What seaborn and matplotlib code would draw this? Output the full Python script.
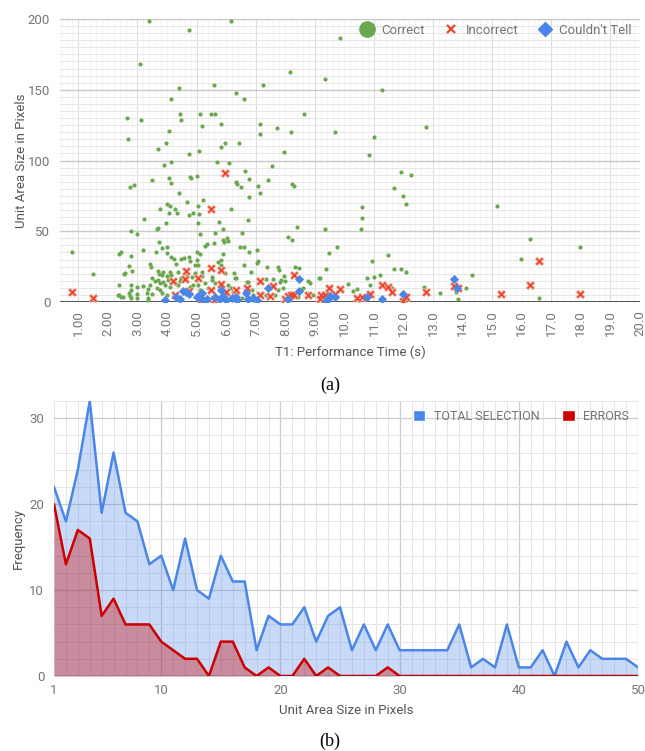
import numpy as np
import pandas as pd
import matplotlib.pyplot as plt
import seaborn as sns
from matplotlib.lines import Line2D
from matplotlib.patches import Patch

# ---- (a) T1 performance time vs unit area size ----
correct_t = [
    0.80, 1.49, 2.75, 2.90, 3.48, 4.06, 4.15, 4.77, 5.00, 4.42,
    4.67, 4.01, 4.09, 3.75, 4.06, 4.27, 4.33, 4.73, 4.89, 5.05,
    3.22, 3.96, 3.69, 3.66, 5.05, 2.78, 3.00, 3.74, 3.20, 3.63,
    3.82, 3.99, 4.01, 2.43, 2.39, 2.77, 3.42, 3.46, 2.70, 4.15,
    4.22, 4.32, 4.47, 4.57, 4.75, 4.77, 4.94, 5.00, 2.83, 2.54,
    2.59, 3.68, 3.74, 3.82, 3.87, 3.99, 4.10, 4.15, 4.38, 3.50,
    3.60, 3.69, 3.76, 3.87, 3.93, 4.04, 3.42, 3.37, 3.20, 2.97,
    2.78, 2.77, 2.39, 2.38, 2.44, 2.75, 2.78, 2.97, 3.00, 3.31,
    3.34, 3.48, 3.65, 3.76, 3.82, 3.99, 4.10, 4.27, 4.38, 4.44,
    4.49, 4.66, 4.83, 4.94, 5.05, 4.89, 4.77, 3.36, 2.50, 2.73,
    7.14, 6.78, 5.22, 5.09, 6.15, 5.77, 6.74, 5.11, 5.64, 5.88,
    5.89, 6.02, 6.05, 5.93, 5.60, 5.34, 5.29, 6.52, 6.46, 6.60,
    6.77, 7.03, 8.10, 8.23, 8.41, 9.34, 9.48, 5.03, 5.10, 5.91,
    5.73, 5.82, 5.84, 5.79, 7.08, 7.05, 6.60, 7.39, 7.76, 7.79,
    8.32, 8.48, 5.06, 5.17, 5.19, 5.51, 5.53, 5.64, 5.96, 6.27,
    6.29, 6.35, 6.84, 6.69, 6.74, 7.35, 7.60, 7.87, 7.96, 7.98,
    7.83, 9.14, 8.77, 8.83, 7.93, 7.76, 8.60, 8.72, 5.28, 5.37,
    5.11, 5.00, 5.45, 6.07, 6.16, 6.24, 6.86, 6.91, 7.20, 7.34,
    7.65, 8.15, 8.21, 8.43, 8.94, 9.39, 5.62, 5.90, 6.52, 2.35,
    3.39, 6.16, 4.74, 3.08, 8.17, 9.33, 5.60, 7.25, 4.40, 6.33,
    4.13, 6.61, 2.63, 3.13, 4.44, 4.49, 5.10, 5.48, 5.63, 8.64,
    5.19, 5.81, 7.15, 7.15, 7.71, 8.20, 2.69, 4.06, 3.97, 5.97,
    6.42, 5.83, 3.68, 5.08, 4.76, 7.97, 3.91, 4.15, 5.69, 6.11,
    7.56, 6.65, 4.82, 6.33, 6.38, 6.49, 6.79, 7.09, 7.43, 8.23,
    8.29, 9.86, 11.27, 9.67, 11.00, 12.75, 10.82, 11.91, 12.25, 11.67,
    11.98, 12.07, 10.58, 10.61, 10.56, 9.75, 9.37, 9.17, 15.17, 16.28,
    15.99, 17.97, 10.93, 11.49, 11.67, 11.90, 12.07, 10.78, 11.00, 11.22,
    10.11, 10.29, 10.44, 10.86, 11.62, 12.71, 13.24, 13.76, 14.12, 14.31,
    13.84, 16.57, 10.46, 9.50,
]
correct_size = [
    35, 20, 81, 82.8, 85.9, 87.8, 83.8, 88.5, 89, 76.7,
    70.9, 69, 67.8, 65.9, 63.1, 65.9, 62.9, 61.2, 63.1, 68,
    58.8, 56, 52.5, 51.3, 56, 49.9, 48, 42.1, 36.7, 35.1,
    38.4, 38.6, 34.4, 35.1, 33.7, 32.5, 26.6, 24.5, 25.7, 31.6,
    30.4, 26.6, 30.2, 30.8, 31.6, 29, 26.1, 29.7, 22.1, 19.8,
    20.2, 22.1, 19.8, 19.1, 21.4, 18.4, 21.4, 19.1, 21.4, 16.7,
    15.1, 15.6, 13.2, 14.4, 12, 15.6, 12, 9, 11.3, 10.8,
    12, 8.5, 12, 4.9, 3.8, 4.3, 2.6, 5.4, 3.1, 6.6,
    2.6, 5.7, 9.7, 8.5, 6.1, 5.0, 10.8, 13.2, 12, 14.8,
    16.7, 19.1, 17.9, 20.2, 12, 12, 10.8, 1.4, 3.3, 6.6,
    76.7, 73.9, 72, 61.9, 65.9, 56.7, 57.9, 48, 49, 51.6,
    43.8, 45.4, 43.3, 42.1, 41.9, 41, 39.8, 49, 38.6, 38.6,
    35.6, 36.7, 46.1, 43.8, 52.7, 51.8, 34.8, 35.3, 33.9, 33.9,
    28.3, 29.7, 26.1, 22.6, 29, 27.8, 26.1, 25, 25, 22.6,
    24.5, 23.8, 26.1, 21.4, 18.4, 17.9, 15.6, 13.2, 20.7, 20.2,
    17.2, 16.7, 21.4, 13.9, 14.4, 16.3, 16, 15.6, 18.4, 15.1,
    13.9, 16.7, 15.1, 13.2, 9.7, 8.5, 9.7, 6.1, 13.2, 9.7,
    8.5, 15.6, 8.5, 12, 9.7, 7.3, 8.5, 5, 6.1, 5,
    5, 6.1, 2.6, 3.8, 5, 6.1, 3.8, 4.3, 2.6, 4.9,
    198.6, 198.6, 192.5, 168.5, 162.6, 157.7, 153.7, 153.7, 151.5, 147.6,
    143.6, 143.6, 129.7, 128.7, 132.7, 128.7, 132.7, 132.7, 132.7, 132.7,
    124.7, 125.7, 125.7, 118.6, 122.8, 119.8, 114.9, 120.7, 112.7, 112.7,
    112.7, 109.7, 107.8, 106.6, 104.7, 105.7, 96.7, 98.8, 98.8, 97.9,
    95.8, 92.7, 87.8, 85, 83.1, 81, 86.8, 81.9, 85.9, 83.1,
    81.9, 186.8, 149.7, 119.8, 116.7, 123.8, 103.8, 91.8, 89.9, 80.9,
    74.8, 69.6, 66.8, 59.7, 51.7, 39, 23, 17.2, 67.7, 44.7,
    30.1, 38.8, 28.9, 32.9, 23, 23, 20.9, 16.9, 17.9, 19.1,
    12.9, 8, 8.9, 12, 9.6, 10.8, 6.1, 7.3, 9.6, 18.8,
    2.1, 3, 1.4, 9.6,
]

incorrect_t = [
    0.80, 1.49, 4.19, 4.27, 4.62, 4.64, 4.74, 5.04, 5.11, 5.14,
    5.50, 5.50, 5.50, 5.60, 5.82, 5.82, 5.97, 5.99, 6.35, 6.69,
    7.16, 7.16, 7.48, 7.57, 7.99, 8.10, 8.20, 8.29, 8.30, 8.77,
    9.16, 9.20, 9.33, 9.48, 9.67, 9.86, 10.44, 10.58, 10.86, 11.26,
    11.49, 11.60, 11.98, 12.09, 12.75, 13.70, 13.83, 15.31, 16.27, 16.57,
    17.97,
]
incorrect_size = [
    7, 3, 15, 5, 16, 22, 8, 17, 4, 1.5,
    24, 8.5, 66, 1.5, 22.5, 12.5, 91, 7.3, 8.5, 10,
    15, 5, 4.5, 11, 2, 4.5, 5, 19, 5, 5,
    2, 5, 5, 10, 6, 9, 2.8, 3.3, 5.6, 12,
    10.8, 7, 1, 3.8, 7, 11, 10, 6, 12, 29,
    6,
]

unsure_t = [
    3.93, 4.32, 4.53, 4.64, 4.75, 5.00, 5.08, 5.17, 5.34, 5.62,
    5.80, 5.81, 6.00, 6.35, 6.37, 6.66, 6.74, 7.05, 7.42, 8.10,
    8.47, 8.47, 9.39, 9.45, 9.50, 9.67, 10.78, 11.26, 11.98, 13.71,
    13.82, 5.25, 5.90, 6.20, 4.45, 6.90,
]
unsure_size = [
    1.4, 3.8, 8, 6.8, 5.4, 3.3, 3.8, 6.1, 2.4, 3.8,
    2.4, 8.5, 1.4, 3.8, 1.4, 6.1, 1.9, 1.4, 9.6, 2.1,
    16, 8, 1, 2.4, 4.2, 3.3, 3.3, 1.9, 5.9, 16,
    9.6, 1, 4.5, 2.5, 2, 3,
]

time_ticks = list(range(1, 21))
time_labels = ["1.00", "2.00", "3.00", "4.00", "5.00", "6.00", "7.00", "8.00", "9.00",
               "10.0", "11.0", "12.0", "13.0", "14.0", "15.0", "16.0", "17.0", "18.0",
               "19.0", "20.0"]

# ---- (b) frequency per unit area size ----
unit_size = list(range(1, 51))
total_selection = [22, 18, 24, 32, 19, 26, 19, 18, 13, 14,
                   10, 16, 10, 9, 14, 11, 11, 3, 7, 6,
                   6, 8, 4, 7, 8, 3, 6, 3, 6, 3,
                   3, 3, 3, 3, 6, 1, 2, 1, 6, 1,
                   1, 3, 0, 4, 1, 3, 2, 2, 2, 1]
errors = [20, 13, 17, 16, 7, 9, 6, 6, 6, 4,
          3, 2, 2, 0, 4, 4, 1, 0, 1, 0,
          0, 2, 0, 1, 0, 0, 0, 0, 1, 0,
          0, 0, 0, 0, 0, 0, 0, 0, 0, 0,
          0, 0, 0, 0, 0, 0, 0, 0, 0, 0]

GREEN = "#6aa84f"
RED = "#e8452c"
BLUE = "#4a86e8"
DARK_RED = "#cc0000"
TICK = "#757575"
TITLE = "#555555"

sns.set_theme(style="white")
plt.rcParams['font.family'] = ['Roboto', 'DejaVu Sans']

df_ok = pd.DataFrame({"t": correct_t, "size": correct_size})
df_bad = pd.DataFrame({"t": incorrect_t, "size": incorrect_size})
df_unsure = pd.DataFrame({"t": unsure_t, "size": unsure_size})
df_freq = pd.DataFrame({"unit": unit_size, "total": total_selection, "errors": errors})

fig = plt.figure(figsize=(6.45, 7.51), dpi=100)
ax1 = fig.add_axes([60 / 645, 1 - 302 / 751, 580 / 645, 283 / 751])
ax2 = fig.add_axes([54 / 645, 1 - 676 / 751, 584 / 645, 275 / 751])

# grid for the scatter
for v in np.arange(0.4, 20.01, 0.2):
    ax1.axvline(v, color="#f2f2f2", lw=0.6, zorder=0)
for v in range(1, 21, 2):
    ax1.axvline(v, color="#dddddd", lw=0.8, zorder=0)
for v in range(0, 201, 5):
    ax1.axhline(v, color="#e6e6e6", lw=0.7, zorder=0)
for v in range(50, 201, 50):
    ax1.axhline(v, color="#c8c8c8", lw=1.0, zorder=0)
ax1.axhline(0, color="#333333", lw=1.2, zorder=1)

sns.scatterplot(data=df_ok, x="t", y="size", color=GREEN, s=9, linewidth=0, ax=ax1, zorder=3)
sns.scatterplot(data=df_bad, x="t", y="size", marker="x", color="#f7b9ac", s=26, linewidth=2.6, ax=ax1, zorder=4)
sns.scatterplot(data=df_bad, x="t", y="size", marker="x", color=RED, s=20, linewidth=1.2, ax=ax1, zorder=5)
sns.scatterplot(data=df_unsure, x="t", y="size", marker="D", color=BLUE, s=22, linewidth=0, ax=ax1, zorder=6)

ax1.set_xlim(0.38, 20)
ax1.set_ylim(0, 200)
ax1.set_xticks(time_ticks)
ax1.set_xticklabels(time_labels, rotation=90)
ax1.set_yticks([0, 50, 100, 150, 200])
ax1.tick_params(axis="both", length=0, colors=TICK, labelsize=9.5)
ax1.tick_params(axis="x", pad=6)
ax1.tick_params(axis="y", pad=7)
for s in ax1.spines.values():
    s.set_visible(False)
ax1.set_xlabel("T1: Performance Time (s)", color=TITLE, fontsize=9.5)
ax1.set_ylabel("Unit Area Size in Pixels", color=TITLE, fontsize=9.5)
ax1.xaxis.set_label_coords(0.5, -0.155)
ax1.yaxis.set_label_coords(-0.055, 0.5)

handles1 = [
    Line2D([], [], ls="", marker="o", ms=11, color=GREEN, label="Correct"),
    Line2D([], [], ls="", marker="x", ms=6, mew=1.6, color=RED, label="Incorrect"),
    Line2D([], [], ls="", marker="D", ms=7, color=BLUE, label="Couldn't Tell"),
]
leg1 = ax1.legend(handles=handles1, loc="upper right", bbox_to_anchor=(1.0, 1.01), ncol=3,
                  frameon=False, fontsize=9.5, handlelength=1.0, handletextpad=0.6,
                  columnspacing=1.5, borderaxespad=0.2)
for t in leg1.get_texts():
    t.set_color(TICK)

# grid for the frequency chart
for v in range(1, 51):
    ax2.axvline(v, color="#e6e6e6", lw=0.7, zorder=0)
for v in range(10, 51, 10):
    ax2.axvline(v, color="#cccccc", lw=0.9, zorder=0)
for v in range(0, 33, 2):
    ax2.axhline(v, color="#e6e6e6", lw=0.7, zorder=0)
for v in range(10, 31, 10):
    ax2.axhline(v, color="#cccccc", lw=0.9, zorder=0)

ax2.fill_between(df_freq["unit"], df_freq["total"], color=BLUE, alpha=0.3, lw=0, zorder=2)
sns.lineplot(data=df_freq, x="unit", y="total", color=BLUE, lw=1.8, ax=ax2, zorder=3)
ax2.fill_between(df_freq["unit"], df_freq["errors"], color=DARK_RED, alpha=0.36, lw=0, zorder=4)
sns.lineplot(data=df_freq, x="unit", y="errors", color=DARK_RED, lw=1.8, ax=ax2, zorder=5)
ax2.axhline(0, color="#333333", lw=1.0, zorder=6)

ax2.set_xlim(1, 50)
ax2.set_ylim(0, 32)
ax2.set_xticks([1, 10, 20, 30, 40, 50])
ax2.set_yticks([0, 10, 20, 30])
ax2.tick_params(axis="both", length=0, colors=TICK, labelsize=9.5)
ax2.tick_params(axis="x", pad=6)
ax2.tick_params(axis="y", pad=7)
for s in ax2.spines.values():
    s.set_visible(False)
ax2.set_xlabel("Unit Area Size in Pixels", color=TITLE, fontsize=9.5)
ax2.set_ylabel("Frequency", color=TITLE, fontsize=9.5)
ax2.xaxis.set_label_coords(0.5, -0.1)
ax2.yaxis.set_label_coords(-0.05, 0.5)

handles2 = [Patch(facecolor=BLUE, label="TOTAL SELECTION"),
            Patch(facecolor=DARK_RED, label="ERRORS")]
leg2 = ax2.legend(handles=handles2, loc="upper right", bbox_to_anchor=(1.0, 1.0), ncol=2,
                  frameon=False, fontsize=9, handlelength=1.0, handleheight=1.0,
                  handletextpad=0.7, columnspacing=1.8, borderaxespad=0.3)
for t in leg2.get_texts():
    t.set_color(TICK)

fig.text(330 / 645, 1 - 385 / 751, "(a)", ha="center", va="center",
         family="Liberation Serif", fontsize=13, color="black")
fig.text(330 / 645, 1 - 741 / 751, "(b)", ha="center", va="center",
         family="Liberation Serif", fontsize=13, color="black")

fig.savefig("out.png", dpi=100)
